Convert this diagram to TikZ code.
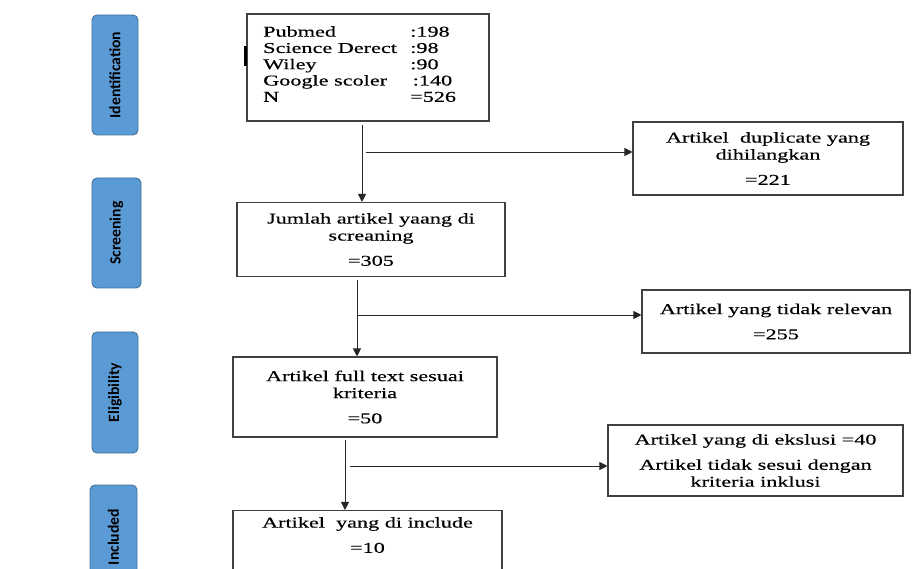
\documentclass[tikz,border=0pt]{standalone}
\usepackage{fontspec}
\usetikzlibrary{arrows.meta}
\newfontfamily\boxfont[FakeStretch=1.48,FakeBold=0.4]{Liberation Serif}
\newfontfamily\pillfont{Carlito}
\definecolor{pillblue}{RGB}{91,155,213}
\definecolor{pilledge}{RGB}{65,113,156}
\tikzset{
  phase/.style={draw=pilledge, fill=pillblue, rounded corners=0.15cm, line width=0.8pt},
  phasetext/.style={rotate=90, font=\pillfont\bfseries\fontsize{13.4}{16}\selectfont},
  flowbox/.style={draw=black!75, line width=0.9pt, align=center, inner sep=0pt,
    font=\boxfont\fontsize{12.8}{14.5}\selectfont},
  link/.style={line width=0.8pt, black!85}
}
\begin{document}
\begin{tikzpicture}[x=0.03cm, y=-0.03cm, >={Triangle[width=0.24cm,length=0.24cm]}]
  \useasboundingbox (0,0) rectangle (913,569);
  % Phase labels on the left
  \draw[phase] (92,15) rectangle (138,135);
  \node[phasetext] (idlabel) at (115,75) {Identification};
  \draw[phase] (92,178) rectangle (141,288);
  \node[phasetext] (sclabel) at (116.5,233) {Screening};
  \draw[phase] (92,332) rectangle (138,453);
  \node[phasetext] (ellabel) at (115,392.5) {Eligibility};
  \draw[phase] (90,485) rectangle (137,610);
  \node[phasetext] (inlabel) at (113.5,537) {Included};
  % Identification box
  \node[flowbox, minimum width=7.26cm, minimum height=3.21cm] (sources) at (368,67.5) {};
  \node[anchor=north west, inner sep=0pt, font=\boxfont\fontsize{12.8}{13.9}\selectfont] (srclist) at (263,25)
    {\begin{tabular}{@{}p{4.41cm}@{}l@{}}
      Pubmed & :198\\
      Science Derect & :98\\
      Wiley & :90\\
      Google scoler & \,:140\\
      N & =526
    \end{tabular}};
  \draw[line width=0.09cm] (245.5,46) -- (245.5,66);
  % Screening
  \node[flowbox, minimum width=8.1cm, minimum height=2.19cm] (dup) at (768,158.5)
    {Artikel\ \ duplicate yang\\ dihilangkan\\[7pt] =221};
  \node[flowbox, minimum width=8.04cm, minimum height=2.22cm] (screen) at (371,239.5)
    {Jumlah artikel yaang di\\ screaning\\[7pt] =305};
  % Eligibility
  \node[flowbox, minimum width=8.04cm, minimum height=1.89cm] (irrel) at (776,321.5)
    {Artikel yang tidak relevan\\[7pt] =255};
  \node[flowbox, minimum width=7.92cm, minimum height=2.4cm] (fulltext) at (365,397)
    {Artikel full text sesuai\\ kriteria\\[7pt] =50};
  \node[flowbox, minimum width=8.85cm, minimum height=2.13cm] (excl) at (755.5,460.5)
    {Artikel yang di ekslusi =40\\[7pt] Artikel tidak sesui dengan\\ kriteria inklusi};
  % Included
  \node[flowbox, minimum width=8.07cm, inner ysep=0.2cm, anchor=north] (incl) at (367.5,510)
    {Artikel\ \ yang di include\\[7pt] =10\\[40pt]};
  % Connectors
  \coordinate (t1) at (362,125);
  \coordinate (b1) at (366,152);
  \draw[link, ->] (t1) -- (t1 |- screen.north);
  \draw[link, ->] (b1) -- (b1 -| dup.west);
  \coordinate (t2) at (357,280);
  \coordinate (b2) at (357,315);
  \draw[link, ->] (t2) -- (t2 |- fulltext.north);
  \draw[link, ->] (b2) -- (b2 -| irrel.west);
  \coordinate (t3) at (345,440);
  \coordinate (b3) at (350,466);
  \draw[link, ->] (t3) -- (t3 |- incl.north);
  \draw[link, ->] (b3) -- (b3 -| excl.west);
\end{tikzpicture}
\end{document}
